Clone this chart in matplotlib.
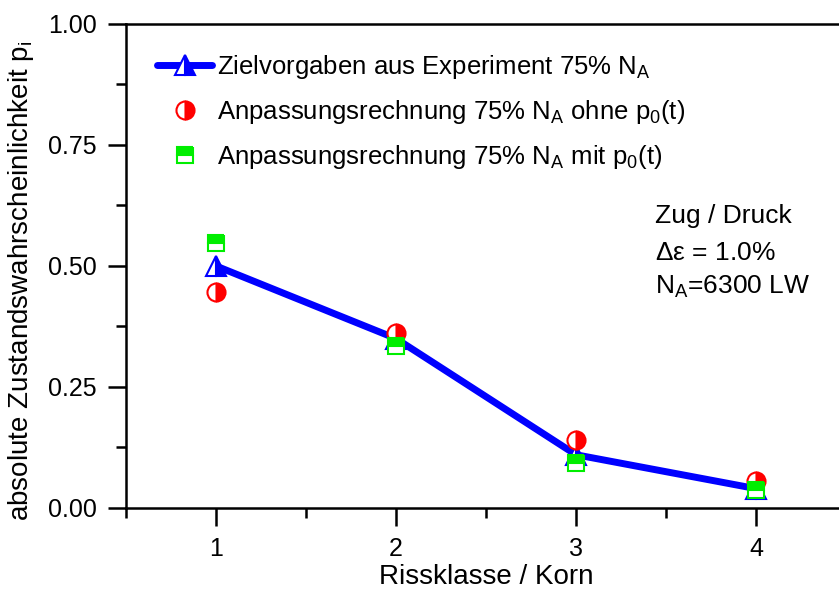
import matplotlib
matplotlib.use("Agg")
import matplotlib.pyplot as plt
from matplotlib.ticker import MultipleLocator, FormatStrFormatter

plt.rcParams['font.family'] = ['Liberation Sans', 'DejaVu Sans']
plt.rcParams['mathtext.fontset'] = 'custom'
plt.rcParams['mathtext.rm'] = 'Liberation Sans'
plt.rcParams['mathtext.it'] = 'Liberation Sans'

# data
klasse = [1, 2, 3, 4]
ziel = [0.50, 0.35, 0.11, 0.04]
ohne_p0 = [0.446, 0.362, 0.14, 0.056]
mit_p0 = [0.547, 0.335, 0.093, 0.037]

lab_ziel = r'Zielvorgaben aus Experiment 75% N$_\mathrm{A}$'
lab_ohne = r'Anpassungsrechnung 75% N$_\mathrm{A}$ ohne p$_\mathrm{0}$(t)'
lab_mit = r'Anpassungsrechnung 75% N$_\mathrm{A}$ mit p$_\mathrm{0}$(t)'

fig = plt.figure(figsize=(8.39, 5.92), dpi=100)
ax = fig.add_axes([0.1502, 0.1419, 0.8581, 0.8176])

ax.plot(klasse, ziel, color='#0000ff', lw=5, solid_capstyle='round',
        marker='^', ms=14, fillstyle='right', markerfacecoloralt='white',
        mec='#0000ff', mew=1.5, label=lab_ziel, zorder=2)
ax.plot(klasse, ohne_p0, ls='none', marker='o', ms=13, color='#ff0000',
        fillstyle='right', markerfacecoloralt='white', mec='#ff0000', mew=1.5,
        label=lab_ohne, zorder=3)
ax.plot(klasse, mit_p0, ls='none', marker='s', ms=11.5, color='#00ee00',
        fillstyle='top', markerfacecoloralt='white', mec='#00ee00', mew=1.5,
        label=lab_mit, zorder=4)

ax.set_xlim(0.5, 4.5)
ax.set_ylim(0, 1)
ax.xaxis.set_major_locator(MultipleLocator(1))
ax.xaxis.set_minor_locator(MultipleLocator(0.5))
ax.yaxis.set_major_locator(MultipleLocator(0.25))
ax.yaxis.set_minor_locator(MultipleLocator(0.125))
ax.yaxis.set_major_formatter(FormatStrFormatter('%.2f'))

for s in ['left', 'bottom', 'top', 'right']:
    ax.spines[s].set_linewidth(1.8)
ax.tick_params(which='major', direction='out', length=13, width=1.8,
               labelsize=18, pad=8)
ax.tick_params(which='minor', direction='out', length=7, width=1.8)
ax.tick_params(top=False, right=False, which='both')

ax.set_xlabel('Rissklasse / Korn', fontsize=20, labelpad=2)
ax.set_ylabel(r'absolute Zustandswahrscheinlichkeit p$_\mathrm{i}$', fontsize=20)
ax.yaxis.set_label_coords(-0.125, 0.47)

ax.legend(loc='upper left', bbox_to_anchor=(157 / 839, 1 - 53 / 592),
          bbox_transform=fig.transFigure, frameon=False, fontsize=18.5,
          handlelength=2.15, handletextpad=0.2, labelspacing=0.66,
          borderpad=0, borderaxespad=0)

ax.text(655 / 839, 1 - 216 / 592, 'Zug / Druck', transform=fig.transFigure,
        fontsize=19, va='center')
ax.text(655 / 839, 1 - 253 / 592, r'$\Delta\varepsilon$ = 1.0%',
        transform=fig.transFigure, fontsize=19, va='center')
ax.text(655 / 839, 1 - 287 / 592, r'N$_\mathrm{A}$=6300 LW',
        transform=fig.transFigure, fontsize=19, va='center')

fig.savefig('out.png', dpi=100)
